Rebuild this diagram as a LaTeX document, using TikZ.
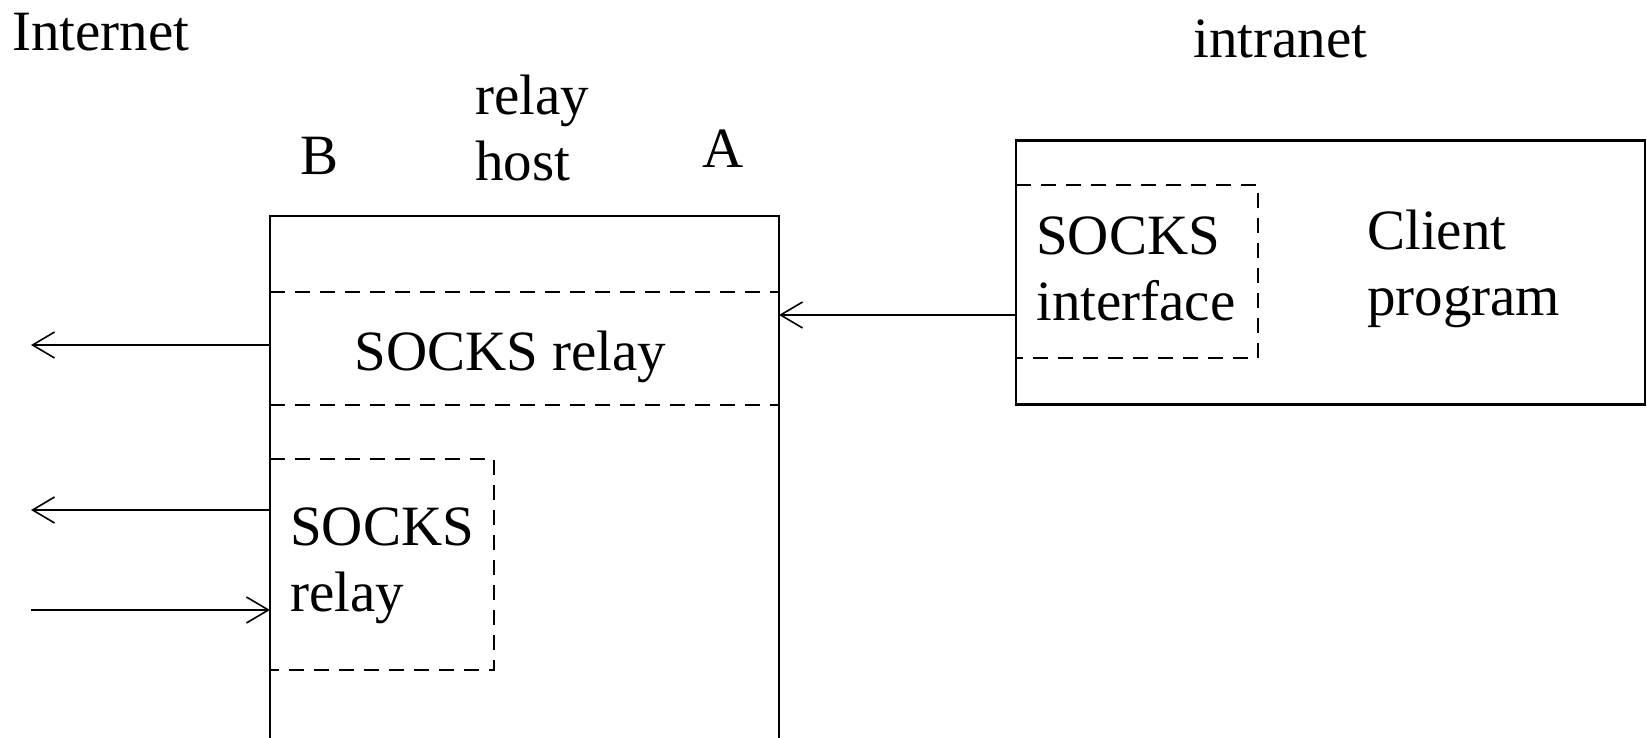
\documentclass[tikz,border=0pt]{standalone}
\usepackage{fontspec}
\setmainfont{Liberation Serif}
\usetikzlibrary{arrows.meta}
\begin{document}
\begin{tikzpicture}[x=1pt,y=-1pt,
  box/.style={draw, line width=2.4pt, inner sep=0pt, outer sep=0pt},
  dashline/.style={line width=2.2pt, dash pattern=on 15pt off 10pt},
  link/.style={line width=2.4pt, -{Straight Barb[length=22pt,width=26pt,line width=1.6pt]}},
  lbl/.style={font=\fontsize{57}{66}\selectfont, inner sep=0pt, anchor=base west, align=left},
]
\useasboundingbox (0,0) rectangle (1647,738);

% relay host and the client program
\node[box, minimum width=509pt, minimum height=523pt] (relay) at (524.5,477.5) {};
\node[box, minimum width=629pt, minimum height=264pt] (client) at (1330.5,272.5) {};

% labels (a two-line label sits on the baseline of its last line)
\node[lbl] (internet) at (12,50.4) {Internet};
\node[lbl] (intranet) at (1193,58) {intranet};
\node[lbl] (hostlbl) at (475,180.7) {relay\\host};
\node[lbl, anchor=base] (blbl) at (320,175) {B};
\node[lbl, anchor=base] (albl) at (723,168) {A};

% SOCKS relay band across the relay host
\draw[dashline] (relay.west |- 0,292) -- (relay.east |- 0,292);
\draw[dashline] (relay.west |- 0,405) -- (relay.east |- 0,405);
\node[lbl, anchor=base] (bandlbl) at (510.5,370) {SOCKS relay};

% SOCKS relay module in the lower part
\draw[dashline] (relay.west |- 0,459) -- (494,459) -- (494,670) -- (relay.west |- 0,670);
\node[lbl] (modlbl) at (290,611) {SOCKS\\relay};

% SOCKS interface inside the client
\draw[dashline] (client.west |- 0,185) -- (1258,185) -- (1258,358) -- (client.west |- 0,358);
\node[lbl] (ifacelbl) at (1036,320) {SOCKS\\interface};
\node[lbl] (proglbl) at (1367,315) {Client\\program};

% connections
\coordinate (out1) at (31,345);
\coordinate (out2) at (31,510);
\coordinate (in3) at (31,610);
\draw[link] (client.west |- 0,315) -- (relay.east |- 0,315);
\draw[link] (relay.west |- out1) -- (out1);
\draw[link] (relay.west |- out2) -- (out2);
\draw[link] (in3) -- (relay.west |- in3);
\end{tikzpicture}
\end{document}
